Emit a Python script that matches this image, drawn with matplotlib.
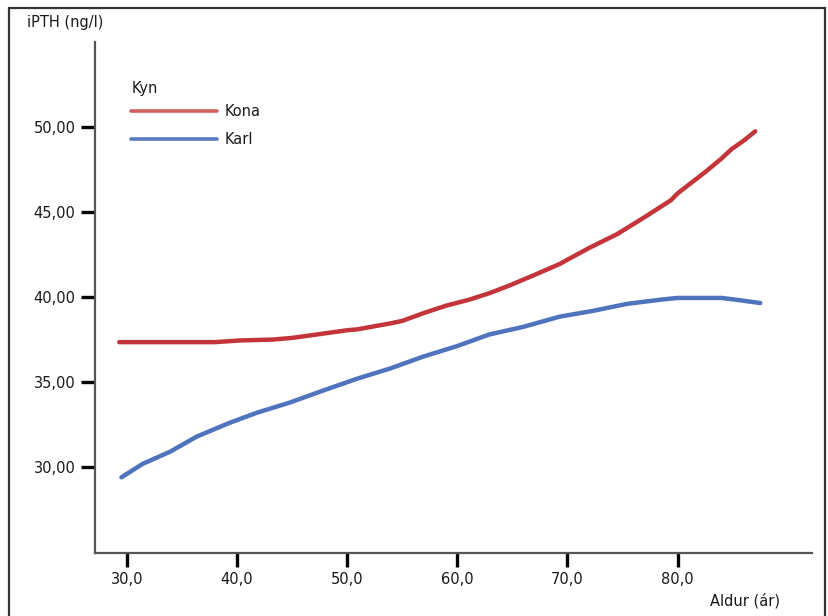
import matplotlib
matplotlib.use("Agg")
import matplotlib.pyplot as plt
from matplotlib.patches import Rectangle

plt.rcParams['font.family'] = ['DejaVu Sans']

# Data
kona_age = [29.3, 32.0, 35.0, 38.0, 40.3, 43.2, 45.0, 47.8, 50.0, 50.9, 53.9, 55.0, 56.9,
            59.0, 61.1, 63.0, 64.8, 67.0, 69.3, 70.0, 72.0, 74.5, 77.0, 79.4, 80.0,
            82.5, 83.9, 84.9, 86.0, 87.05]
kona_pth = [37.35, 37.35, 37.35, 37.35, 37.45, 37.5, 37.6, 37.85, 38.05, 38.1, 38.45, 38.6, 39.05,
            39.5, 39.85, 40.25, 40.7, 41.3, 41.95, 42.2, 42.9, 43.7, 44.7, 45.7, 46.1,
            47.35, 48.1, 48.7, 49.2, 49.75]

karl_age = [29.5, 31.45, 33.9, 36.35, 39.3, 41.8, 44.8, 47.8, 50.9, 53.9, 56.9, 59.9,
            62.9, 66.0, 69.3, 72.4, 75.4, 78.5, 80.0, 82.0, 84.0, 85.8, 87.5]
karl_pth = [29.4, 30.2, 30.9, 31.8, 32.6, 33.2, 33.8, 34.5, 35.2, 35.8, 36.5, 37.1,
            37.8, 38.25, 38.85, 39.2, 39.6, 39.85, 39.95, 39.95, 39.95, 39.8, 39.65]

series_labels = ['Kona', 'Karl']
series_colors = ['#C3353A', '#4F73BD']
legend_colors = ['#D2605E', '#5A7BC2']
legend_title = 'Kyn'

xticks = [30, 40, 50, 60, 70, 80]
xticklabels = ['30,0', '40,0', '50,0', '60,0', '70,0', '80,0']
yticks = [30, 35, 40, 45, 50]
yticklabels = ['30,00', '35,00', '40,00', '45,00', '50,00']

W, H = 829, 616
FS = 10.5
TXT = '#1a1a1a'
fig = plt.figure(figsize=(W / 100, H / 100), dpi=100)
ax = fig.add_axes([95 / W, 1 - 553 / H, (812 - 95) / W, (553 - 42) / H])

ax.plot(kona_age, kona_pth, color=series_colors[0], lw=3.2, solid_capstyle='round',
        label=series_labels[0])
ax.plot(karl_age, karl_pth, color=series_colors[1], lw=3.2, solid_capstyle='round',
        label=series_labels[1])

ax.set_xlim(27.1, 92.2)
ax.set_ylim(24.95, 55.0)
ax.set_xticks(xticks)
ax.set_xticklabels(xticklabels)
ax.set_yticks(yticks)
ax.set_yticklabels(yticklabels)

for s in ['top', 'right']:
    ax.spines[s].set_visible(False)
for s in ['left', 'bottom']:
    ax.spines[s].set_color('#555555')
    ax.spines[s].set_linewidth(1.6)

ax.tick_params(axis='both', direction='out', length=10, width=2.4, color='black',
               labelsize=FS, labelcolor=TXT)
ax.tick_params(axis='y', pad=4)
ax.tick_params(axis='x', pad=4)

fig.text(27 / W, 1 - 22 / H, 'iPTH (ng/l)', fontsize=FS, color=TXT,
         ha='left', va='center')
fig.text(780 / W, 1 - 601 / H, 'Aldur (ár)', fontsize=FS, color=TXT,
         ha='right', va='center')

fig.text(132 / W, 1 - 88 / H, legend_title, fontsize=FS, color=TXT,
         ha='left', va='center')
leg = ax.legend(loc='upper left',
                bbox_to_anchor=(131 / W, 1 - 104 / H), bbox_transform=fig.transFigure,
                frameon=False, handlelength=5.9, handletextpad=0.5,
                labelspacing=0.9, borderpad=0, borderaxespad=0, fontsize=FS)
for line, c in zip(leg.get_lines(), legend_colors):
    line.set_linewidth(2.6)
    line.set_color(c)
for t in leg.get_texts():
    t.set_color(TXT)

frame = Rectangle((9 / W, -0.02), (825 - 9) / W, 1 - 8 / H + 0.02,
                  transform=fig.transFigure, fill=False, edgecolor='#333333',
                  linewidth=1.6, zorder=10)
fig.patches.append(frame)

fig.savefig('out.png', dpi=100)
